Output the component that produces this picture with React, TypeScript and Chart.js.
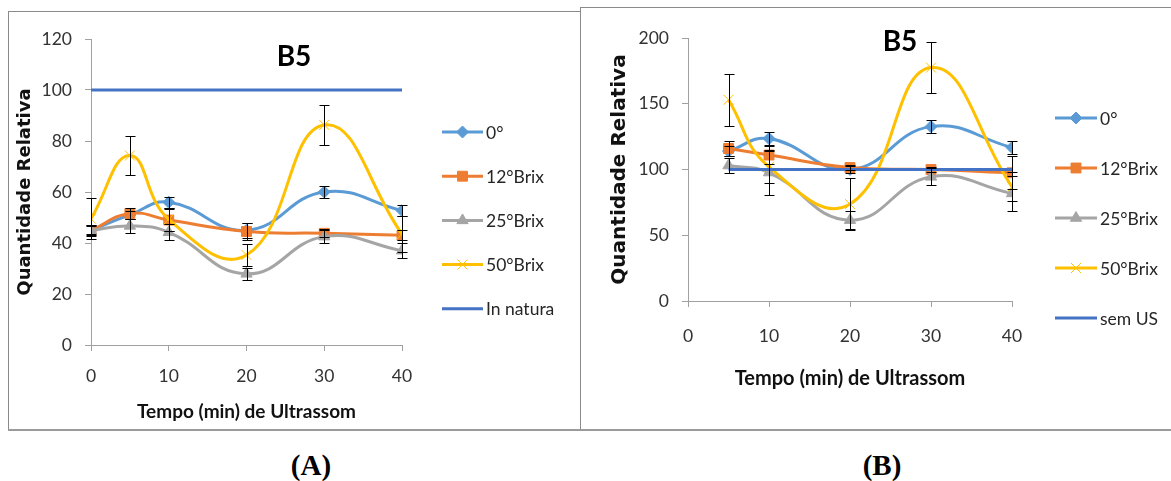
import React, { useEffect, useRef } from 'react';
import { Chart, registerables } from 'chart.js';
import { drawPoint } from 'chart.js/helpers';

Chart.register(...registerables);

// ---------- Data (panel A) ----------
const timesA = [0, 5, 10, 20, 30, 40];
const a0 = [45, 51, 56, 45, 60, 52.7];
const a0Err = [1.5, 1.5, 2.2, 3, 2.4, 2.3];
const a12 = [44.9, 51.6, 49, 44.5, 43.8, 43];
const a12Err = [2, 2.3, 4.4, 3.5, 1.5, 2];
const a25 = [45, 46.7, 44.2, 27.9, 42.5, 37];
const a25Err = [2, 2.6, 3.2, 2.3, 2.6, 3];
const a50 = [49.5, 74.3, 49.3, 35.3, 86.3, 43.5];
const a50Err = [8, 7.8, 4.5, 4.3, 7.8, 7];
const timesANatura = [0, 40];
const aNatura = [100, 100];

// ---------- Data (panel B) ----------
const timesB = [5, 10, 20, 30, 40];
const b0 = [114, 123.5, 100, 132.6, 116.7];
const b0Err = [4, 5, 3, 4.8, 5];
const b12 = [116, 111, 101.5, 100, 97.5];
const b12Err = [6, 7, 2, 2, 12.5];
const b25 = [103, 97.7, 61.5, 94.4, 81.8];
const b25Err = [6, 17, 7, 6.4, 13];
const b50 = [153, 102, 73.7, 177.5, 86.8];
const b50Err = [20, 12, 20, 19.5, 11];
const timesBSemUS = [5, 40];
const bSemUS = [100, 100];

const legendA = ['0°', '12°Brix', '25°Brix', '50°Brix', 'In natura'];
const legendB = ['0°', '12°Brix', '25°Brix', '50°Brix', 'sem US'];
const ticksAY = { min: 0, max: 120, step: 20 };
const ticksBY = { min: 0, max: 200, step: 50 };
const ticksX = { min: 0, max: 40, step: 10 };

const pts = (xs: number[], ys: number[]) => xs.map((x, i) => ({ x, y: ys[i] }));

const styles = [
  { color: '#5B9BD5', pointStyle: 'rectRot', radius: 6, pbw: 1 },
  { color: '#ED7D31', pointStyle: 'rect', radius: 7, pbw: 1 },
  { color: '#A5A5A5', pointStyle: 'triangle', radius: 6.5, pbw: 1 },
  { color: '#FFC000', pointStyle: 'crossRot', radius: 7, pbw: 1 },
  { color: '#4472C4', pointStyle: false, radius: 0, pbw: 0 },
];

function makeDatasets(labels: string[], series: any[], errs: any[]) {
  return series.map((s, i) => {
    const st = styles[i];
    return {
      label: labels[i],
      data: s,
      errors: errs[i],
      borderColor: st.color,
      backgroundColor: st.color,
      borderWidth: 3,
      tension: i === 4 ? 0 : 0.45,
      pointStyle: st.pointStyle,
      pointRadius: st.radius,
      pointBackgroundColor: st.color,
      pointBorderColor: st.color,
      pointBorderWidth: st.pbw,
      order: 5 - i,
      fill: false,
    };
  });
}

const decorPlugin = {
  id: 'decor',
  afterDatasetsDraw(chart: any, _args: any, opts: any) {
    const { ctx } = chart;
    const xs = chart.scales.x;
    const ys = chart.scales.y;
    ctx.save();
    ctx.strokeStyle = '#000';
    ctx.lineWidth = 1;
    chart.data.datasets.forEach((ds: any) => {
      if (!ds.errors) return;
      ds.data.forEach((p: any, i: number) => {
        const e = ds.errors[i];
        if (!e) return;
        const x = Math.round(xs.getPixelForValue(p.x)) + 0.5;
        const y1 = Math.round(ys.getPixelForValue(p.y + e)) + 0.5;
        const y2 = Math.round(ys.getPixelForValue(p.y - e)) + 0.5;
        ctx.beginPath();
        ctx.moveTo(x, y1);
        ctx.lineTo(x, y2);
        ctx.moveTo(x - opts.cap, y1);
        ctx.lineTo(x + opts.cap, y1);
        ctx.moveTo(x - opts.cap, y2);
        ctx.lineTo(x + opts.cap, y2);
        ctx.stroke();
      });
    });
    ctx.restore();
  },
  afterDraw(chart: any, _args: any, opts: any) {
    const { ctx } = chart;
    ctx.save();
    // title
    ctx.fillStyle = '#000';
    ctx.font = opts.titleFont;
    ctx.textAlign = 'center';
    ctx.textBaseline = 'middle';
    ctx.fillText(opts.title, opts.titleX, opts.titleY);
    // legend
    ctx.font = opts.legendFont;
    ctx.textAlign = 'left';
    chart.data.datasets.forEach((ds: any, i: number) => {
      const y = opts.legendY + i * opts.legendGap;
      ctx.strokeStyle = ds.borderColor;
      ctx.lineWidth = 3;
      ctx.beginPath();
      ctx.moveTo(opts.legendX0, y);
      ctx.lineTo(opts.legendX1, y);
      ctx.stroke();
      if (ds.pointStyle) {
        ctx.fillStyle = ds.pointBackgroundColor;
        ctx.strokeStyle = ds.pointBorderColor;
        ctx.lineWidth = ds.pointBorderWidth;
        drawPoint(ctx, { pointStyle: ds.pointStyle, rotation: 0, radius: ds.pointRadius, borderWidth: ds.pointBorderWidth }, (opts.legendX0 + opts.legendX1) / 2, y);
      }
      ctx.fillStyle = '#262626';
      ctx.fillText(ds.label, opts.legendTextX, y + 1);
    });
    ctx.restore();
  },
};

function makeConfig(p: any) {
  const tickFont = { family: 'Lato', size: 17.5 };
  return {
    type: 'line',
    data: { datasets: p.datasets },
    plugins: [decorPlugin],
    options: {
      animation: false,
      responsive: false,
      events: [],
      layout: { padding: { left: 0, top: p.padTop, right: p.padRight, bottom: 0 } },
      plugins: {
        legend: { display: false },
        tooltip: { enabled: false },
        title: { display: false },
        decor: p.decor,
      },
      scales: {
        x: {
          type: 'linear',
          min: ticksX.min,
          max: ticksX.max,
          afterFit: (s: any) => { s.height = p.xHeight; },
          ticks: { stepSize: ticksX.step, font: tickFont, color: '#333', padding: p.xTickPad, maxRotation: 0 },
          grid: { drawOnChartArea: false, drawTicks: true, tickLength: 6, color: '#A0A0A0' },
          border: { color: '#A0A0A0', width: 1 },
          title: {
            display: true,
            text: 'Tempo (min) de Ultrassom',
            font: { family: 'Lato', weight: 'bold', size: p.xTitleSize },
            color: '#111',
            padding: { top: 0, bottom: p.xTitlePad },
          },
        },
        y: {
          type: 'linear',
          min: p.yTicks.min,
          max: p.yTicks.max,
          afterFit: (s: any) => { s.width = p.yWidth; },
          ticks: { stepSize: p.yTicks.step, font: tickFont, color: '#333', padding: 13 },
          grid: { drawOnChartArea: false, drawTicks: true, tickLength: 6, color: '#A0A0A0' },
          border: { color: '#A0A0A0', width: 1 },
          title: {
            display: true,
            text: 'Quantidade Relativa',
            font: { family: 'DejaVu Sans', weight: 'bold', size: p.yTitleSize },
            color: '#111',
            padding: { top: p.yTitlePad, bottom: 0 },
          },
        },
      },
    },
  };
}

function ChartCanvas({ config, width, height }: any) {
  const ref = useRef<HTMLCanvasElement>(null);
  useEffect(() => {
    if (!ref.current) return;
    const chart = new Chart(ref.current, config);
    return () => chart.destroy();
  }, [config]);
  return <canvas ref={ref} width={width} height={height} style={{ display: 'block', width, height }} />;
}

const configA = makeConfig({
  datasets: makeDatasets(
    legendA,
    [pts(timesA, a0), pts(timesA, a12), pts(timesA, a25), pts(timesA, a50), pts(timesANatura, aNatura)],
    [a0Err, a12Err, a25Err, a50Err, null]
  ),
  padTop: 27,
  padRight: 178,
  xHeight: 84,
  yWidth: 82,
  yTicks: ticksAY,
  xTickPad: 15,
  xTitleSize: 19,
  xTitlePad: 6,
  yTitleSize: 18,
  yTitlePad: 6,
  decor: {
    cap: 5,
    title: 'B5',
    titleFont: 'bold 28px Lato',
    titleX: 285,
    titleY: 45,
    legendFont: '17.5px Lato',
    legendX0: 433,
    legendX1: 474,
    legendTextX: 477,
    legendY: 120,
    legendGap: 44.2,
  },
});

const configB = makeConfig({
  datasets: makeDatasets(
    legendB,
    [pts(timesB, b0), pts(timesB, b12), pts(timesB, b25), pts(timesB, b50), pts(timesBSemUS, bSemUS)],
    [b0Err, b12Err, b25Err, b50Err, null]
  ),
  padTop: 30,
  padRight: 159,
  xHeight: 127,
  yWidth: 107,
  yTicks: ticksBY,
  xTickPad: 19,
  xTitleSize: 20,
  xTitlePad: 37,
  yTitleSize: 20,
  yTitlePad: 27,
  decor: {
    cap: 5,
    title: 'B5',
    titleFont: 'bold 28px Lato',
    titleX: 319,
    titleY: 34,
    legendFont: '17.5px Lato',
    legendX0: 474,
    legendX1: 516,
    legendTextX: 519,
    legendY: 110,
    legendGap: 50,
  },
});

const capStyle: any = {
  position: 'absolute',
  width: 100,
  top: 449,
  textAlign: 'center',
  fontFamily: '"Liberation Serif", "Times New Roman", serif',
  fontWeight: 'bold',
  fontSize: 29,
  lineHeight: '32px',
};

export default function App() {
  return (
    <div style={{ position: 'absolute', left: 0, top: 0, width: 1171, height: 481, background: '#fff', overflow: 'hidden' }}>
      <div style={{ position: 'absolute', left: 8, top: 11, width: 573, height: 419, boxSizing: 'border-box', border: '1px solid #8a8a8a' }} />
      <div style={{ position: 'absolute', left: 580, top: 7, width: 620, height: 423, boxSizing: 'border-box', border: '1px solid #8a8a8a' }} />
      <div style={{ position: 'absolute', left: 8, top: 429, width: 1163, height: 2, background: '#9a9a9a' }} />
      <div style={{ position: 'absolute', left: 9, top: 12 }}>
        <ChartCanvas config={configA} width={571} height={417} />
      </div>
      <div style={{ position: 'absolute', left: 581, top: 8 }}>
        <ChartCanvas config={configB} width={590} height={420} />
      </div>
      <div style={{ ...capStyle, left: 261 }}>(A)</div>
      <div style={{ ...capStyle, left: 832 }}>(B)</div>
    </div>
  );
}
